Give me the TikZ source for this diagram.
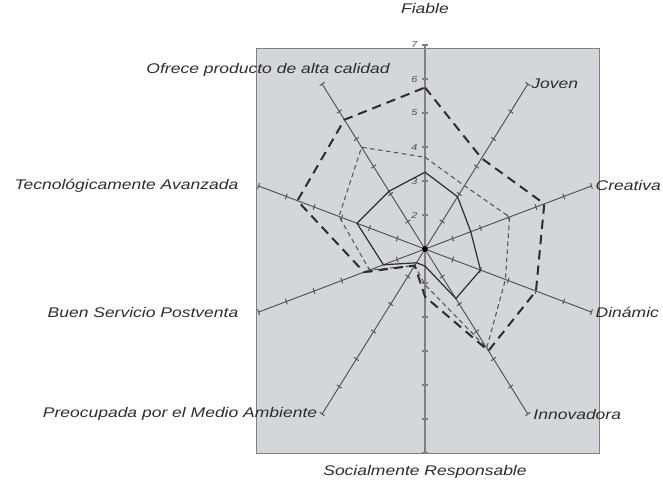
\documentclass[tikz,border=0pt]{standalone}
\usepackage{fontspec}
\setmainfont{Liberation Sans}[FakeStretch=1.25]
\usetikzlibrary{positioning}
\definecolor{panel}{RGB}{211,214,218}
\definecolor{axisgray}{RGB}{80,80,80}
\definecolor{inkgray}{RGB}{45,45,45}
\tikzset{
	lbl/.style={font=\itshape\fontsize{10.5}{12}\selectfont,text=inkgray,inner sep=1pt},
	ticklbl/.style={font=\itshape\fontsize{6.5}{7}\selectfont,text=axisgray,inner sep=0pt},
	axisline/.style={axisgray,line width=0.7pt},
	mainaxis/.style={gray,line width=1.4pt},
	heavydash/.style={inkgray,line width=1.5pt,dash pattern=on 7pt off 4.5pt},
	lightdash/.style={inkgray!80,line width=0.8pt,dash pattern=on 3.5pt off 2.5pt},
	solidline/.style={inkgray,line width=0.9pt}
}
\begin{document}
\begin{tikzpicture}[x=21.875pt,y=25.5pt]
	\useasboundingbox (-14.571,-6.765) rectangle (8.16,7.324);
		\draw[fill=panel,draw=gray,line width=0.8pt] (-5.79,-6) rectangle (5.97,5.91);
	\coordinate (O) at (0,0);
	% axes and ticks
	\foreach \a/\n in {54/jov,18/cre,-18/din,-54/inn,-126/pre,-162/bue,162/tec,126/ofr}{
		\coordinate (\n) at (\a:6);
		\draw[axisline] (O) -- (\n);
		\foreach \k in {1,...,6}
			\draw[axisline] (\a:\k) ++(\a+90:2.2pt) -- ++(\a-90:4.4pt);
	}
	\coordinate (fia) at (90:6);
	\coordinate (soc) at (-90:6);
	\draw[mainaxis] (soc) -- (fia);
	\foreach \k in {1,...,6}{
		\draw[mainaxis] (0,\k) ++(-2.5pt,0) -- ++(5pt,0);
		\draw[mainaxis] (0,-\k) ++(-2.5pt,0) -- ++(5pt,0);
	}
	\foreach \k in {2,...,7}
		\node[ticklbl] (t\k) at ([xshift=-8pt]0,\k-1) {\k};
	% series
	\draw[lightdash] (90:2.7) -- (54:2.3) -- (18:3.05) -- (-18:2.9) -- (-54:3.6) -- (-90:1.05)
		-- (-126:0.6) -- (-162:2.0) -- (162:3.1) -- (126:3.7) -- cycle;
	\draw[solidline] (90:2.26) -- (54:1.9) -- (18:1.65) -- (-18:2.0) -- (-54:1.8) -- (-90:0.5)
		-- (-126:0.5) -- (-162:1.5) -- (162:2.45) -- (126:2.1) -- cycle;
	\draw[heavydash] (90:4.75) -- (54:3.3) -- (18:4.3) -- (-18:4.0) -- (-54:3.7) -- (-90:1.4)
		-- (-126:0.6) -- (-162:2.2) -- (162:4.6) -- (126:4.7) -- cycle;
	\fill[black] (O) circle(2.2pt);
	% labels
	\node[lbl,above=22pt of fia] (lfia) {Fiable};
	\node[lbl,right=1.5pt of jov] (ljov) {Joven};
	\node[lbl,right=2pt of cre] (lcre) {Creativa};
	\node[lbl,right=2pt of din] (ldin) {Dinámic};
	\node[lbl,right=3pt of inn] (linn) {Innovadora};
	\node[lbl,below=8pt of soc] (lsoc) {Socialmente Responsable};
	\node[lbl,left=2.5pt of pre] (lpre) {Preocupada por el Medio Ambiente};
	\node[lbl,left=14pt of bue] (lbue) {Buen Servicio Postventa};
	\node[lbl,left=14pt of tec] (ltec) {Tecnológicamente Avanzada};
	\node[lbl] (lofr) at (-5.38,5.26) {Ofrece producto de alta calidad};
\end{tikzpicture}
\end{document}
